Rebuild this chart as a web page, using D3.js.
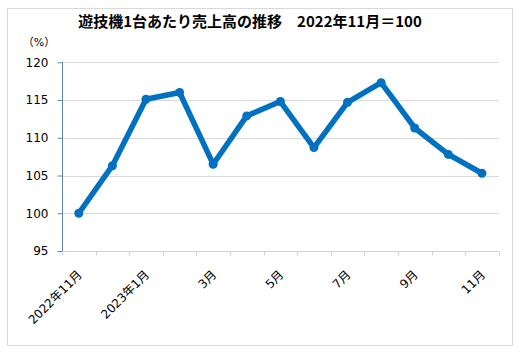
<!DOCTYPE html>
<html>
<head>
<meta charset="utf-8">
<script src="https://cdn.jsdelivr.net/npm/d3@7"></script>
<style>
  body { margin: 0; background: #fff; }
  svg { font-family: "DejaVu Sans", "Noto Sans CJK JP", sans-serif; }
</style>
</head>
<body>
<svg id="chart" width="528" height="355"></svg>
<script>
'use strict';

// months, Nov 2022 .. Nov 2023
var months = ['2022年11月', '2022年12月', '2023年1月', '2月', '3月', '4月', '5月',
              '6月', '7月', '8月', '9月', '10月', '11月'];
// index values (2022年11月 = 100)
var values = [100.0, 106.3, 115.1, 116.0, 106.5, 112.9, 114.8,
              108.7, 114.7, 117.3, 111.3, 107.8, 105.3];
// only every second month gets a label
var tickLabels = ['2022年11月', '', '2023年1月', '', '3月', '', '5月',
                  '', '7月', '', '9月', '', '11月'];
var yTicks = [95, 100, 105, 110, 115, 120];

var svg = d3.select('#chart');

// outer frame
svg.append('rect')
  .attr('x', 7.5).attr('y', 8.5)
  .attr('width', 505).attr('height', 337)
  .attr('fill', '#fff')
  .attr('stroke', '#d9d9d9');

var pLeft = 62, pRight = 498.7, pTop = 62.3, pBottom = 251;

var x = d3.scaleBand().domain(months).range([pLeft, pRight]);
var y = d3.scaleLinear().domain([95, 120]).range([pBottom, pTop]);

// title
svg.append('text')
  .attr('x', 250).attr('y', 27)
  .attr('text-anchor', 'middle')
  .attr('font-family', '"Noto Sans CJK JP", sans-serif')
  .attr('font-weight', 'bold')
  .attr('font-size', 15)
  .text('遊技機1台あたり売上高の推移　2022年11月＝100');

// unit
svg.append('text')
  .attr('x', 39).attr('y', 46)
  .attr('text-anchor', 'middle')
  .attr('font-size', 11)
  .text('（%）');

// gridlines
svg.append('g')
  .selectAll('line')
  .data(yTicks.slice(1))
  .enter()
  .append('line')
  .attr('x1', pLeft).attr('x2', pRight)
  .attr('y1', function(d) { return Math.round(y(d)) + 0.5; })
  .attr('y2', function(d) { return Math.round(y(d)) + 0.5; })
  .attr('stroke', '#d9d9d9');

// y axis
var yAxis = svg.append('g')
  .attr('transform', 'translate(' + (pLeft + 0.5) + ',0)')
  .call(d3.axisLeft(y).tickValues(yTicks).tickSize(5).tickPadding(9));
yAxis.select('.domain').attr('stroke', '#5b88b3').attr('d', 'M0,' + pTop + 'V' + pBottom);
yAxis.selectAll('.tick line').attr('stroke', '#5b88b3');
yAxis.selectAll('.tick text')
  .attr('font-size', 12)
  .attr('fill', '#000')
  .attr('font-family', '"DejaVu Sans", sans-serif');

// x axis (ticks at band edges)
var xg = svg.append('g').attr('transform', 'translate(0,' + (Math.round(pBottom) + 0.5) + ')');
xg.append('line')
  .attr('x1', pLeft).attr('x2', pRight)
  .attr('stroke', '#c9d5e1');
xg.selectAll('line.tk')
  .data(months.concat(['end']))
  .enter()
  .append('line')
  .attr('class', 'tk')
  .attr('x1', function(d, i) { return Math.round(pLeft + i * x.step()) + 0.5; })
  .attr('x2', function(d, i) { return Math.round(pLeft + i * x.step()) + 0.5; })
  .attr('y1', 0).attr('y2', 4)
  .attr('stroke', '#c9d5e1');

// x labels
xg.selectAll('text')
  .data(months)
  .enter()
  .append('text')
  .attr('text-anchor', 'end')
  .attr('font-size', 12)
  .attr('transform', function(d) {
    return 'translate(' + (x(d) + x.bandwidth() / 2 + 1) + ',21) rotate(-45)';
  })
  .attr('dy', '0.35em')
  .text(function(d, i) { return tickLabels[i]; });

// line
var line = d3.line()
  .x(function(d, i) { return x(months[i]) + x.bandwidth() / 2; })
  .y(function(d) { return y(d); });

svg.append('path')
  .datum(values)
  .attr('d', line)
  .attr('fill', 'none')
  .attr('stroke', '#0070c0')
  .attr('stroke-width', 5.5)
  .attr('stroke-linejoin', 'round');

svg.selectAll('circle.pt')
  .data(values)
  .enter()
  .append('circle')
  .attr('class', 'pt')
  .attr('cx', function(d, i) { return x(months[i]) + x.bandwidth() / 2; })
  .attr('cy', function(d) { return y(d); })
  .attr('r', 4.5)
  .attr('fill', '#0070c0');
</script>
</body>
</html>
